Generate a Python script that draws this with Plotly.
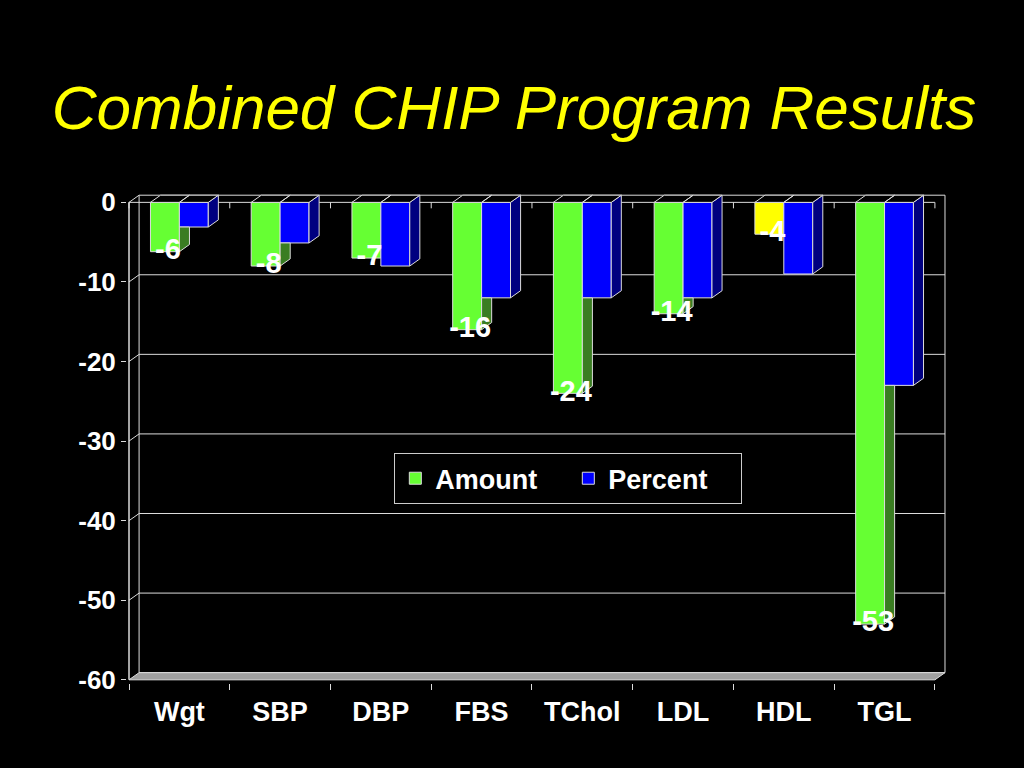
import plotly.graph_objects as go

# ---------------- data ----------------
categories = ["Wgt", "SBP", "DBP", "FBS", "TChol", "LDL", "HDL", "TGL"]
amount = [-6.2, -8, -7, -16, -24, -14, -4, -53]
percent = [-3.1, -5.1, -8, -12, -12, -12, -9, -23]
amount_labels = ["-6", "-8", "-7", "-16", "-24", "-14", "-4", "-53"]
y_ticks = [0, -10, -20, -30, -40, -50, -60]
y_tick_labels = ["0", "-10", "-20", "-30", "-40", "-50", "-60"]
highlight_category = "HDL"

# ---------------- style ----------------
FONT = "Liberation Sans, Arial, sans-serif"
GREEN, GREEN_SIDE = "#66ff33", "#3a7d22"
BLUE, BLUE_SIDE = "#0000ff", "#000080"
YELLOW = "#ffff00"
EDGE = "#dcdcdc"
BW = 0.287      # bar width (category units)
DX, DY = 0.1, 0.9   # 3-D depth offset (x units, y units)
YMIN, YMAX = -60, 0
n = len(categories)
idx = list(range(n))

amount_colors = [YELLOW if c == highlight_category else GREEN for c in categories]

fig = go.Figure()

fig.add_trace(go.Bar(
    x=idx, y=amount, width=BW, offset=-BW, name="Amount",
    marker=dict(color=amount_colors, line=dict(color=EDGE, width=1)),
))
fig.add_trace(go.Bar(
    x=idx, y=percent, width=BW, offset=0, name="Percent",
    marker=dict(color=BLUE, line=dict(color=EDGE, width=1)),
))

# ---- side faces (derived from data) ----
gx, gy = [], []
for i, (a, p) in enumerate(zip(amount, percent)):
    if a < p:  # only part visible below the blue bar
        r = i
        gx += [r, r, r + DX, r + DX, r, None]
        gy += [a, p, p, min(a + DY, p), a, None]
fig.add_trace(go.Scatter(x=gx, y=gy, mode="lines", fill="toself",
                         fillcolor=GREEN_SIDE, line=dict(color=EDGE, width=1),
                         hoverinfo="skip", showlegend=False))

bx, by = [], []
for i, p in enumerate(percent):
    r = i + BW
    bx += [r, r, r + DX, r + DX, r, None]
    by += [p, 0, DY, p + DY, p, None]
fig.add_trace(go.Scatter(x=bx, y=by, mode="lines", fill="toself",
                         fillcolor=BLUE_SIDE, line=dict(color=EDGE, width=1),
                         hoverinfo="skip", showlegend=False))

# ---- top faces ----
tx, ty = [], []
for i in idx:
    for l in (i - BW, i):
        r = l + BW
        tx += [l, l + DX, r + DX, r, l, None]
        ty += [0, DY, DY, 0, 0, None]
fig.add_trace(go.Scatter(x=tx, y=ty, mode="lines", fill="toself",
                         fillcolor="#000000", line=dict(color=EDGE, width=1),
                         hoverinfo="skip", showlegend=False))

# ---- data labels ----
fig.add_trace(go.Scatter(
    x=[i - BW / 2 + 0.03 for i in idx], y=amount, mode="text",
    text=amount_labels, textposition="middle center",
    textfont=dict(family=FONT, size=29, color="white", weight="bold"),
    cliponaxis=False, hoverinfo="skip", showlegend=False))

# ---- walls, grid, floor as shapes below the bars ----
shapes = []
L, R = -0.5, n - 0.5
line_w = dict(color=EDGE, width=1)
shapes.append(dict(type="rect", xref="x", yref="y", x0=L + DX, x1=R + DX,
                   y0=YMIN + DY, y1=YMAX + DY, line=line_w, layer="below"))
for v in y_ticks[1:-1]:
    shapes.append(dict(type="line", xref="x", yref="y", x0=L + DX, x1=R + DX,
                       y0=v + DY, y1=v + DY, line=line_w, layer="below"))
for v in y_ticks[:-1]:
    shapes.append(dict(type="line", xref="x", yref="y", x0=L, x1=L + DX,
                       y0=v, y1=v + DY, line=line_w, layer="below"))
shapes.append(dict(type="path", xref="x", yref="y",
                   path=f"M {L},{YMIN} L {R},{YMIN} L {R+DX},{YMIN+DY} L {L+DX},{YMIN+DY} Z",
                   fillcolor="#a0a0a0", line=line_w, layer="below"))
shapes.append(dict(type="line", xref="x", yref="y", x0=L, x1=L, y0=YMIN, y1=YMAX,
                   line=dict(color=EDGE, width=1.5), layer="below"))
shapes.append(dict(type="line", xref="x", yref="y", x0=L, x1=R, y0=0, y1=0,
                   line=line_w, layer="below"))
for k in range(n + 1):
    shapes.append(dict(type="line", xref="x", yref="y", x0=L + k, x1=L + k,
                       y0=0, y1=-0.75, line=line_w, layer="below"))

fig.update_layout(
    width=1024, height=768,
    paper_bgcolor="black", plot_bgcolor="black",
    margin=dict(l=127, r=77, t=194, b=85),
    barmode="overlay",
    shapes=shapes,
    title=dict(text="<i>Combined CHIP Program Results</i>", x=0.502, xanchor="center",
               y=0.860, yanchor="middle", yref="container",
               font=dict(family=FONT, size=62, color=YELLOW)),
    xaxis=dict(range=[-0.52, n - 0.5 + DX + 0.02], tickmode="array", tickvals=idx,
               ticktext=categories, ticks="", showgrid=False, zeroline=False,
               showline=False, ticklabelstandoff=10,
               tickfont=dict(family=FONT, size=27, color="white", weight="bold"),
               minor=dict(tick0=-0.5, dtick=1, ticks="outside", ticklen=6,
                          tickcolor=EDGE, tickwidth=1, showgrid=False)),
    yaxis=dict(range=[YMIN - 0.4, YMAX + DY + 0.15], tickmode="array", tickvals=y_ticks,
               ticktext=y_tick_labels,
               ticks="outside", ticklen=5, tickcolor=EDGE, showgrid=False,
               zeroline=False, showline=False,
               tickfont=dict(family=FONT, size=26, color="white", weight="bold")),
    legend=dict(orientation="h", x=0.326, y=0.47, xanchor="left", yanchor="top",
                bgcolor="black", bordercolor="#cccccc", borderwidth=1,
                entrywidth=128, itemwidth=30,
                font=dict(family=FONT, size=27, color="white", weight="bold")),
)

fig.write_html("out.html", config={"displayModeBar": False},
               post_script="document.body.style.margin='0';document.body.style.background='black';")
